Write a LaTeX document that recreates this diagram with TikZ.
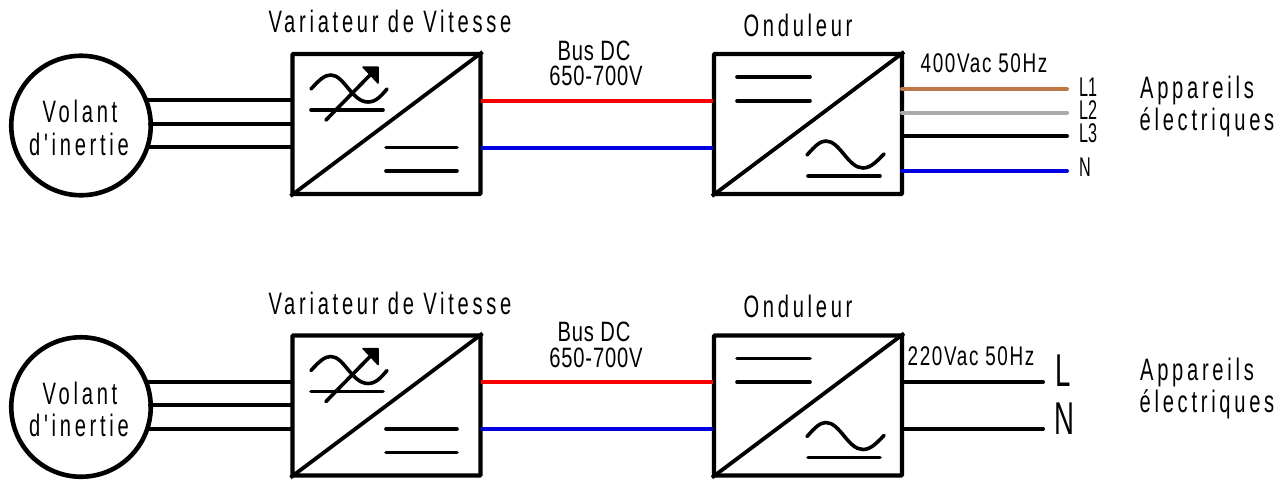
\documentclass[tikz,border=0pt]{standalone}
\usepackage{fontspec}
\setmainfont{Liberation Sans}
\newfontfamily\fontA[FakeStretch=0.65,LetterSpace=12]{Liberation Sans}
\newfontfamily\fontB[FakeStretch=0.72,LetterSpace=3]{Liberation Sans}
\newfontfamily\fontC[FakeStretch=0.70,LetterSpace=6]{Liberation Sans}
\newfontfamily\fontD[FakeStretch=0.60]{Liberation Sans}
\tikzset{
  wire/.style={line width=4pt,line cap=round},
  glyph/.style={line width=3.6pt,line cap=round,line join=round},
  diag/.style={line width=3.8pt,line cap=butt},
  conv/.style={draw,line width=4.2pt,rounded corners=0.8pt,minimum width=188pt,minimum height=140pt,inner sep=0pt},
  motor/.style={circle,draw,line width=4.6pt,minimum size=139.5pt,inner sep=0pt},
  big/.style={font=\fontA\fontsize{31}{36}\selectfont},
  bus/.style={font=\fontB\fontsize{28}{32}\selectfont},
  ac/.style={font=\fontC\fontsize{27}{32}\selectfont},
  phase/.style={font=\fontD\fontsize{27}{32}\selectfont},
  huge/.style={font=\fontD\fontsize{46}{50}\selectfont},
  hl/.style={anchor=base,inner sep=0pt}
}
\definecolor{cred}{RGB}{250,0,0}
\definecolor{cblue}{RGB}{0,0,225}
\definecolor{cbrown}{RGB}{190,120,70}
\definecolor{cgrey}{RGB}{170,170,170}
\newcommand{\drivechain}[2]{%
\begin{scope}[yshift=#2,name prefix=#1-]
  \node[motor] (mot) at (81,125.5) {};
  \node[conv] (var) at (386.5,124) {};
  \node[conv] (ond) at (808,124) {};
  \draw[diag] (var.north east) -- (var.south west);
  \draw[diag] (ond.north east) -- (ond.south west);
  \node[hl,big] (t1) at (390,32.7) {Variateur de Vitesse};
  \node[hl,big] (t2) at (798,36) {Onduleur};
  \node[hl,bus] (bus) at (594,60) {Bus DC};
  \node[hl,bus] (volt) at (596,85.7) {650-700V};
  \node[hl,big] (vo) at (80,122.7) {Volant};
  \node[hl,big] (di) at (79,155) {d'inertie};
  % motor to drive
  \coordinate (ma) at (147,100.3); \coordinate (va) at (292,100.3);
  \coordinate (mb) at (150,123.7); \coordinate (vb) at (292,123.7);
  \coordinate (mc) at (147,147.3); \coordinate (vc) at (292,147.3);
  \draw[wire] (ma) -- (va);
  \draw[wire] (mb) -- (vb);
  \draw[wire] (mc) -- (vc);
  % DC bus
  \coordinate (vp) at (481,100.7); \coordinate (op) at (713,100.7);
  \coordinate (vn) at (481,147.5); \coordinate (on) at (713,147.5);
  \draw[wire,cred,line cap=butt] (vp) -- (op);
  \draw[wire,cblue,line cap=butt] (vn) -- (on);
  % drive glyphs
  \draw[glyph] (311,89) .. controls (320,79) and (325,75) .. (331,75)
     .. controls (344,75) and (352,102) .. (368,102)
     .. controls (376,102) and (381,96) .. (387,89);
  \draw[glyph] (311,110) -- (383,110);
  \draw[glyph] (326,120) -- (372,73);
  \draw[fill,line width=1.5pt,line join=round] (363,67) -- (378,67) -- (378,83) -- cycle;
  \draw[glyph] (386,147.5) -- (457,147.5);
  \draw[glyph] (386,171) -- (457,171);
  % inverter glyphs
  \draw[glyph] (737,77) -- (810,77);
  \draw[glyph] (737,100.7) -- (810,100.7);
  \draw[glyph] (807,155) .. controls (815,146) and (820,141) .. (826,141)
     .. controls (840,141) and (848,168) .. (863,168)
     .. controls (871,168) and (877,161) .. (884,154);
  \draw[glyph] (808,176) -- (880,176);
\end{scope}}
\begin{document}
\begin{tikzpicture}[x=1pt,y=-1pt]
  \useasboundingbox (0,0) rectangle (1280,491);
  \fill[white] (0,0) rectangle (1280,491);
  \drivechain{a}{0pt}
  \drivechain{b}{-281.5pt}
  % upper outputs
  \coordinate (o1) at (902,89);  \coordinate (e1) at (1067,89);
  \coordinate (o2) at (902,112.5); \coordinate (e2) at (1067,112.5);
  \coordinate (o3) at (902,136); \coordinate (e3) at (1067,136);
  \coordinate (o4) at (902,171); \coordinate (e4) at (1067,171);
  \draw[wire,cbrown] (o1) -- (e1);
  \draw[wire,cgrey] (o2) -- (e2);
  \draw[wire] (o3) -- (e3);
  \draw[wire,cblue] (o4) -- (e4);
  \node[hl,ac] (acu) at (984,72) {400Vac 50Hz};
  \node[hl,phase,anchor=base west] (l1) at (1079,96) {L1};
  \node[hl,phase,anchor=base west] (l2) at (1079,119.3) {L2};
  \node[hl,phase,anchor=base west] (l3) at (1079,142.3) {L3};
  \node[hl,phase,anchor=base west] (n4) at (1079,176.7) {N};
  \node[hl,big] (ap1) at (1197,98) {Appareils};
  \node[hl,big] (ap2) at (1207,130.7) {électriques};
  % lower outputs
  \coordinate (p1) at (902,382); \coordinate (f1) at (1043,382);
  \coordinate (p2) at (902,428.7); \coordinate (f2) at (1043,428.7);
  \draw[wire] (p1) -- (f1);
  \draw[wire] (p2) -- (f2);
  \node[hl,ac] (acl) at (971,365) {220Vac 50Hz};
  \node[hl,huge,anchor=base west] (l5) at (1055,386.7) {L};
  \node[hl,huge,anchor=base west] (n5) at (1054,434.3) {N};
  \node[hl,big] (bp1) at (1197,380) {Appareils};
  \node[hl,big] (bp2) at (1207,412.7) {électriques};
\end{tikzpicture}
\end{document}
